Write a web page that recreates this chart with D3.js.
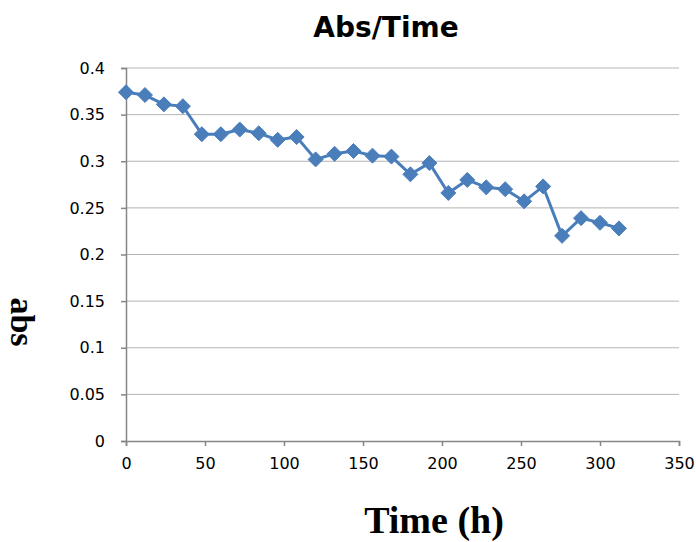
<!DOCTYPE html>
<html>
<head>
<meta charset="utf-8">
<script src="https://cdn.jsdelivr.net/npm/d3@7"></script>
<style>
  body { margin: 0; background: #fff; }
  svg { display: block; }
</style>
</head>
<body>
<svg width="696" height="542"></svg>
<script>
const svg = d3.select("svg");

// data
const hours = [0, 12, 24, 36, 48, 60, 72, 84, 96, 108, 120, 132, 144, 156, 168, 180, 192, 204, 216, 228, 240, 252, 264, 276, 288, 300, 312];
const absValues = [0.374, 0.371, 0.361, 0.359, 0.329, 0.329, 0.334, 0.330, 0.323, 0.326, 0.302, 0.308, 0.311, 0.306, 0.305, 0.286, 0.298, 0.266, 0.280, 0.272, 0.270, 0.257, 0.273, 0.220, 0.239, 0.234, 0.228];
const xTicks = [0, 50, 100, 150, 200, 250, 300, 350];
const yTicks = [0, 0.05, 0.1, 0.15, 0.2, 0.25, 0.3, 0.35, 0.4];

const x = d3.scaleLinear().domain([0, 350]).range([126, 679]);
const y = d3.scaleLinear().domain([0, 0.4]).range([441, 68]);

// gridlines
svg.append("g")
  .selectAll("line")
  .data(yTicks.filter(d => d > 0))
  .join("line")
  .attr("x1", x(0)).attr("x2", x(350))
  .attr("y1", d => y(d)).attr("y2", d => y(d))
  .attr("stroke", "#b3b3b3")
  .attr("stroke-width", 1);

// y axis
const yAxis = svg.append("g")
  .attr("transform", `translate(${x(0)},0)`)
  .call(d3.axisLeft(y).tickValues(yTicks).tickSize(5).tickPadding(16).tickFormat(d3.format("")));
// x axis
const xAxis = svg.append("g")
  .attr("transform", `translate(0,${y(0)})`)
  .call(d3.axisBottom(x).tickValues(xTicks).tickSize(5).tickPadding(12).tickFormat(d3.format("")));

[yAxis, xAxis].forEach(a => {
  a.select(".domain").attr("stroke", "#868686").attr("stroke-width", 1.5);
  a.selectAll(".tick line").attr("stroke", "#868686").attr("stroke-width", 1.5);
  a.selectAll("text")
    .attr("fill", "#000")
    .style("font-family", "'DejaVu Sans', Verdana, sans-serif")
    .style("font-size", "16px");
});

// line
const line = d3.line()
  .x((d, i) => x(hours[i]))
  .y(d => y(d));

svg.append("path")
  .datum(absValues)
  .attr("d", line)
  .attr("fill", "none")
  .attr("stroke", "#4a7ebb")
  .attr("stroke-width", 3)
  .attr("stroke-linejoin", "round");

// diamond markers
svg.append("g")
  .selectAll("path")
  .data(absValues)
  .join("path")
  .attr("transform", (d, i) => `translate(${x(hours[i])},${y(d)})`)
  .attr("d", "M0,-7.5 L7.5,0 L0,7.5 L-7.5,0 Z")
  .attr("fill", "#4a7ebb")
  .attr("stroke", "#4a7ebb")
  .attr("stroke-width", 1);

// title
svg.append("text")
  .attr("x", 386).attr("y", 37)
  .attr("text-anchor", "middle")
  .style("font-family", "'DejaVu Sans', sans-serif")
  .style("font-weight", "bold")
  .style("font-size", "28px")
  .text("Abs/Time");

// x axis title
svg.append("text")
  .attr("x", 434).attr("y", 533)
  .attr("text-anchor", "middle")
  .style("font-family", "'Liberation Serif', 'Times New Roman', serif")
  .style("font-weight", "bold")
  .style("font-size", "38px")
  .text("Time (h)");

// y axis title
svg.append("text")
  .attr("transform", "translate(11,322) rotate(90)")
  .attr("text-anchor", "middle")
  .style("font-family", "'Liberation Serif', 'Times New Roman', serif")
  .style("font-weight", "bold")
  .style("font-size", "34px")
  .text("abs");
</script>
</body>
</html>
